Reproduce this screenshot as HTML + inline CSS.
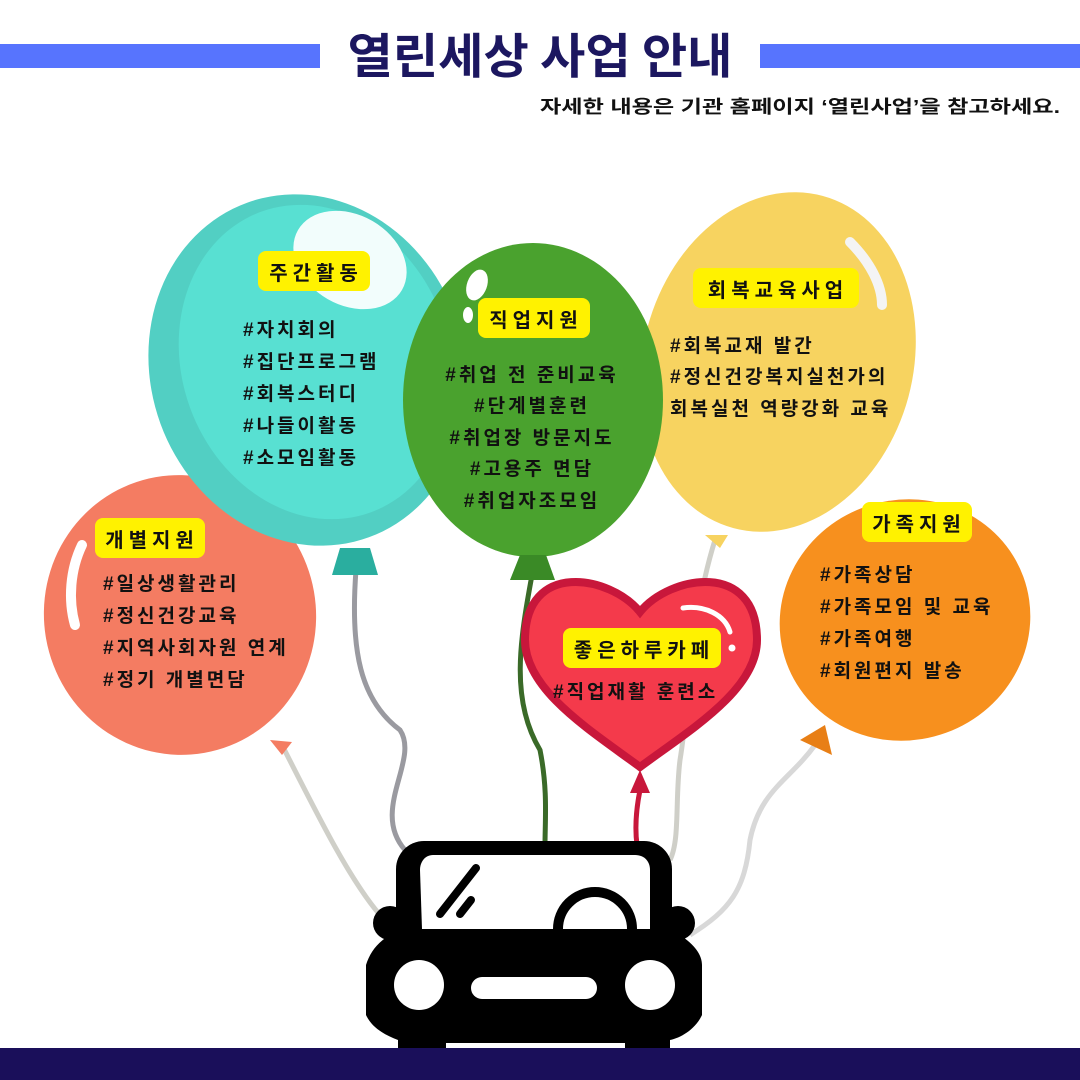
<!DOCTYPE html>
<html><head><meta charset="utf-8"><style>
html,body{margin:0;padding:0;background:#fff;}
svg{display:block;}
text{font-family:"Liberation Sans","Noto Sans CJK KR","NanumGothic",sans-serif;}
.t{font-size:19px;font-weight:bold;fill:#111;letter-spacing:3px;}
.h{font-size:20px;font-weight:bold;fill:#111;letter-spacing:5px;}
</style></head><body>
<svg width="1080" height="1080" viewBox="0 0 1080 1080">
<rect x="0" y="44" width="320" height="24" fill="#5774fe"/>
<rect x="760" y="44" width="320" height="24" fill="#5774fe"/>
<text x="540" y="73" text-anchor="middle" font-size="48" font-weight="bold" fill="#1c1760" style="font-family:'Noto Sans CJK KR',sans-serif" textLength="385" lengthAdjust="spacingAndGlyphs">열린세상 사업 안내</text>
<text x="540" y="113" font-size="18" font-weight="bold" fill="#111" textLength="520" lengthAdjust="spacingAndGlyphs">자세한 내용은 기관 홈페이지 ‘열린사업’을 참고하세요.</text>

<g fill="none" stroke-width="5">
<path d="M282 745 C320 820 350 880 380 915" stroke="#cfcfc8"/>
<path d="M356 570 C350 650 360 700 400 730 C420 760 370 810 405 850" stroke="#9a9aa0"/>
<path d="M532 575 C520 640 510 700 540 750 C548 790 545 820 545 845" stroke="#3a6a28"/>
<path d="M715 540 C690 620 690 700 680 760 C675 800 680 840 670 860" stroke="#cfcfc8"/>
<path d="M815 745 C790 780 760 790 750 840 C745 890 730 910 690 935" stroke="#d8d8d8"/>
<path d="M640 790 C636 810 635 830 637 845" stroke="#c8173b"/>
</g>

<ellipse cx="180" cy="615" rx="136" ry="140" fill="#f47c62" transform="rotate(-10 180 615)"/>
<polygon points="270,740 292,742 282,755" fill="#f47c62"/>
<path d="M82 545 C70 570 68 600 75 625" stroke="#fff" stroke-width="10" fill="none" stroke-linecap="round"/>
<ellipse cx="308" cy="370" rx="157" ry="178" fill="#52cfc3" transform="rotate(-20 308 370)"/>
<ellipse cx="316" cy="362" rx="134" ry="160" fill="#58e0d2" transform="rotate(-20 316 362)"/>
<ellipse cx="350" cy="260" rx="60" ry="45" fill="#f2fdfc" transform="rotate(30 350 260)"/>
<polygon points="340,548 370,548 378,575 332,575" fill="#2aae9f"/>
<ellipse cx="778" cy="362" rx="135" ry="172" fill="#f7d360" transform="rotate(15 778 362)"/>
<path d="M850 242 C870 262 882 285 882 305" stroke="#f4f4f4" stroke-width="10" fill="none" stroke-linecap="round"/>
<polygon points="705,535 728,535 720,548" fill="#f7d360"/>
<ellipse cx="533" cy="400" rx="130" ry="157" fill="#4aa22e"/>
<ellipse cx="477" cy="285" rx="10" ry="16" fill="#fff" transform="rotate(20 477 285)"/>
<ellipse cx="468" cy="315" rx="5" ry="8" fill="#fff"/>
<polygon points="520,555 546,555 555,580 510,580" fill="#3a8a26"/>
<ellipse cx="905" cy="620" rx="126" ry="120" fill="#f7901e" transform="rotate(-20 905 620)"/>
<polygon points="800,740 825,725 832,755" fill="#e87f16"/>
<path d="M640 612 C610 575 525 560 525 640 C525 690 590 730 640 767 C690 730 757 690 757 640 C757 560 670 575 640 612 Z" fill="#f43a4b" stroke="#c8173b" stroke-width="8"/>
<path d="M683 608 C705 605 725 615 730 632" stroke="#fff" stroke-width="5" fill="none" stroke-linecap="round"/>
<circle cx="732" cy="648" r="3.5" fill="#fff"/>
<polygon points="640,770 650,793 630,793" fill="#c8173b"/>

<g fill="#fff200">
<rect x="258" y="251" width="112" height="40" rx="8"/>
<rect x="478" y="298" width="112" height="40" rx="8"/>
<rect x="693" y="268" width="166" height="40" rx="8"/>
<rect x="95" y="518" width="110" height="40" rx="8"/>
<rect x="862" y="502" width="110" height="40" rx="8"/>
<rect x="563" y="628" width="158" height="40" rx="8"/>
</g>
<text class="h" x="316" y="280" text-anchor="middle">주간활동</text>
<text class="h" x="536" y="327" text-anchor="middle">직업지원</text>
<text class="h" x="778" y="297" text-anchor="middle">회복교육사업</text>
<text class="h" x="152" y="547" text-anchor="middle">개별지원</text>
<text class="h" x="919" y="531" text-anchor="middle">가족지원</text>
<text class="h" x="644" y="657" text-anchor="middle">좋은하루카페</text>

<text class="t" x="243" y="336">#자치회의</text>
<text class="t" x="243" y="368">#집단프로그램</text>
<text class="t" x="243" y="400">#회복스터디</text>
<text class="t" x="243" y="432">#나들이활동</text>
<text class="t" x="243" y="464">#소모임활동</text>

<g text-anchor="middle">
<text class="t" x="532" y="381">#취업 전 준비교육</text>
<text class="t" x="532" y="412">#단계별훈련</text>
<text class="t" x="532" y="444">#취업장 방문지도</text>
<text class="t" x="532" y="475">#고용주 면담</text>
<text class="t" x="532" y="507">#취업자조모임</text>
</g>

<text class="t" x="670" y="352">#회복교재 발간</text>
<text class="t" x="670" y="383" letter-spacing="1">#정신건강복지실천가의</text>
<text class="t" x="670" y="415" letter-spacing="1">회복실천 역량강화 교육</text>

<text class="t" x="103" y="590">#일상생활관리</text>
<text class="t" x="103" y="622">#정신건강교육</text>
<text class="t" x="103" y="654" letter-spacing="1">#지역사회자원 연계</text>
<text class="t" x="103" y="686">#정기 개별면담</text>

<text class="t" x="820" y="581">#가족상담</text>
<text class="t" x="820" y="613">#가족모임 및 교육</text>
<text class="t" x="820" y="645">#가족여행</text>
<text class="t" x="820" y="677">#회원편지 발송</text>

<text class="t" x="553" y="698" letter-spacing="2">#직업재활 훈련소</text>

<g fill="#000">
<rect x="396" y="841" width="276" height="110" rx="28"/>
<circle cx="390" cy="923" r="17"/>
<circle cx="678" cy="923" r="17"/>
<path d="M390 935 L680 935 C695 945 702 955 702 965 L702 1015 C695 1030 680 1038 670 1040 L670 1048 L625 1048 L625 1043 L446 1043 L446 1048 L398 1048 L398 1040 C385 1035 372 1028 366 1015 L366 965 C370 952 378 942 390 935 Z"/>
</g>
<path d="M433 855 L635 855 C645 855 650 862 650 870 L650 929 L422 929 L420 870 C420 862 425 855 433 855 Z" fill="#fff"/>
<path d="M558 929 A37 37 0 0 1 632 929" fill="none" stroke="#000" stroke-width="10"/>
<line x1="440" y1="914" x2="476" y2="868" stroke="#000" stroke-width="8" stroke-linecap="round"/>
<line x1="460" y1="914" x2="471" y2="900" stroke="#000" stroke-width="8" stroke-linecap="round"/>
<circle cx="419" cy="985" r="25" fill="#fff"/>
<circle cx="650" cy="985" r="25" fill="#fff"/>
<rect x="471" y="977" width="126" height="22" rx="11" fill="#fff"/>
<rect x="0" y="1048" width="1080" height="32" fill="#1a0f5a"/>
</svg>
</body></html>
